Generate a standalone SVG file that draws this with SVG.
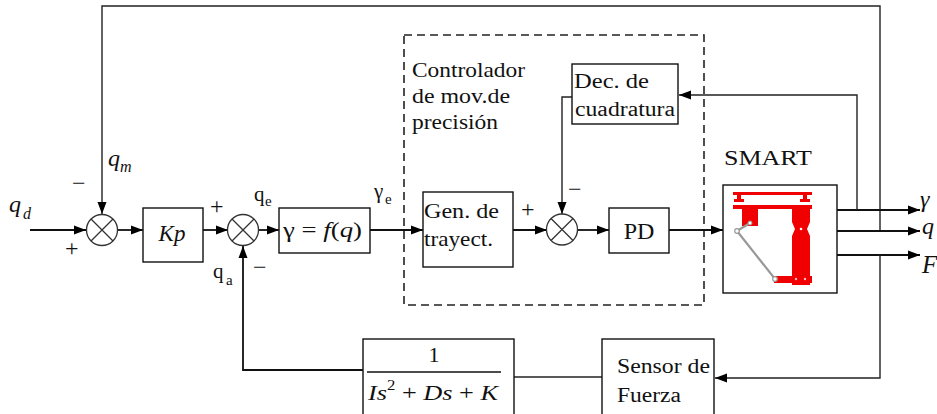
<svg xmlns="http://www.w3.org/2000/svg" width="937" height="414" viewBox="0 0 937 414" font-family="'Liberation Serif', 'Times New Roman', Times, serif">
  <style>
    .box { fill: #fff; stroke: #111; stroke-width: 1.4; }
    .ln { fill: none; stroke: #111; stroke-width: 1.8; }
    .thin { fill: none; stroke: #222; stroke-width: 1.4; }
    .sum { fill: #fff; stroke: #333; stroke-width: 1.3; }
    text { font-family: 'Liberation Serif', 'Times New Roman', Times, serif; fill: #111; }
    .i { font-style: italic; }
    .sg { font-size: 24px; }
    .dash { fill: none; stroke: #222; stroke-width: 1.6; stroke-dasharray: 8 5; }
    .red { fill: #f00000; }
    .lnk { stroke: #999; stroke-width: 2.2; fill: none; stroke-linecap: round; }
  </style>
  <defs>
    <marker id="ah" markerUnits="userSpaceOnUse" markerWidth="13" markerHeight="10" refX="12" refY="5" orient="auto">
      <path d="M0,0.5 L12,5 L0,9.5 z" fill="#000"/>
    </marker>
  </defs>

  <rect width="937" height="414" fill="#fff"/>

  <!-- precision motion controller frame -->
  <g id="controller-frame">
    <rect class="dash" x="404" y="35" width="300" height="270"/>
    <text font-size="21" x="412" y="77" textLength="113" lengthAdjust="spacingAndGlyphs">Controlador</text>
    <text font-size="21" x="412" y="103" textLength="98" lengthAdjust="spacingAndGlyphs">de mov.de</text>
    <text font-size="21" x="412" y="129" textLength="86" lengthAdjust="spacingAndGlyphs">precisión</text>
  </g>

  <!-- connectors -->
  <g id="connectors">
    <path class="ln" d="M30,230 H86" marker-end="url(#ah)"/>
    <path class="thin" d="M880,231 V6 H102 V214" marker-end="url(#ah)"/>
    <path class="ln" d="M118,230 H143" marker-end="url(#ah)"/>
    <path class="ln" d="M203,230 H228" marker-end="url(#ah)"/>
    <path class="ln" d="M258,230 H279" marker-end="url(#ah)"/>
    <path class="ln" d="M370,230 H423" marker-end="url(#ah)"/>
    <path class="ln" d="M513,230 H547" marker-end="url(#ah)"/>
    <path class="ln" d="M577,230 H609" marker-end="url(#ah)"/>
    <path class="ln" d="M669,230 H723" marker-end="url(#ah)"/>
    <path class="thin" d="M572,97 H562 V214" marker-end="url(#ah)"/>
    <path class="ln" d="M837,210 H920" marker-end="url(#ah)"/>
    <path class="thin" d="M857,210 V95 H679" marker-end="url(#ah)"/>
    <path class="ln" d="M837,231 H920" marker-end="url(#ah)"/>
    <path class="ln" d="M837,255 H920" marker-end="url(#ah)"/>
    <path class="thin" d="M880,255 V378 H715" marker-end="url(#ah)"/>
    <path class="thin" d="M602,377 H514"/>
    <path class="ln" d="M363,370 H243 V246" marker-end="url(#ah)"/>
  </g>

  <!-- input / signal labels -->
  <g id="labels">
    <text class="i" font-size="24" x="9" y="212">q</text>
    <text class="i" font-size="16" x="23" y="219">d</text>
    <text class="sg" x="65" y="256">+</text>
    <text class="sg" x="72" y="191">−</text>
    <text class="i" font-size="24" x="108" y="166">q</text>
    <text class="i" font-size="16" x="120" y="172">m</text>
    <text class="sg" x="210" y="214">+</text>
    <text font-size="21" x="254" y="201">q</text>
    <text font-size="15" x="265" y="206">e</text>
    <text font-size="21" x="213" y="278">q</text>
    <text font-size="15" x="226" y="285">a</text>
    <text class="sg" x="253" y="275">−</text>
    <text font-size="21" x="374" y="198">γ</text>
    <text font-size="15" x="385" y="204">e</text>
    <text class="sg" x="521" y="217">+</text>
    <text class="sg" x="568" y="197">−</text>
    <text class="i" font-size="24" x="920" y="207">γ</text>
    <text class="i" font-size="24" x="922" y="234">q</text>
    <text class="i" font-size="25" x="922" y="273">F</text>
  </g>

  <g id="sum1">
    <circle class="sum" cx="102" cy="230" r="15.5"/>
    <path class="sum" d="M91,219 L113,241 M113,219 L91,241"/>
  </g>
  <g id="sum2">
    <circle class="sum" cx="243" cy="230" r="15.5"/>
    <path class="sum" d="M232,219 L254,241 M254,219 L232,241"/>
  </g>
  <g id="sum3">
    <circle class="sum" cx="562" cy="229.5" r="15.5"/>
    <path class="sum" d="M551,218.5 L573,240.5 M573,218.5 L551,240.5"/>
  </g>

  <g id="kp">
    <rect class="box" x="143" y="208" width="60" height="54"/>
    <text class="i" font-size="23" x="172" y="241" text-anchor="middle">Kp</text>
  </g>

  <g id="gamma-fq">
    <rect class="box" x="279" y="208" width="91" height="45"/>
    <text font-size="22" x="283" y="237" textLength="79" lengthAdjust="spacingAndGlyphs">γ = <tspan font-style="italic">f</tspan>(<tspan font-style="italic">q</tspan>)</text>
  </g>

  <g id="gen-trayect">
    <rect class="box" x="423" y="192" width="90" height="75"/>
    <text font-size="21" x="424" y="218" textLength="75" lengthAdjust="spacingAndGlyphs">Gen. de</text>
    <text font-size="21" x="424" y="246" textLength="69" lengthAdjust="spacingAndGlyphs">trayect.</text>
  </g>

  <g id="pd">
    <rect class="box" x="609" y="208" width="60" height="45"/>
    <text font-size="24" x="639" y="239" text-anchor="middle">PD</text>
  </g>

  <g id="dec-cuadratura">
    <rect class="box" x="572" y="64" width="106" height="60"/>
    <text font-size="20" x="574" y="88" textLength="75" lengthAdjust="spacingAndGlyphs">Dec. de</text>
    <text font-size="20" x="575" y="116" textLength="100" lengthAdjust="spacingAndGlyphs">cuadratura</text>
  </g>

  <g id="smart">
    <text font-size="21" x="724" y="165" textLength="88" lengthAdjust="spacingAndGlyphs">SMART</text>
    <rect class="box" x="723" y="185" width="114" height="108"/>
    <!-- manipulator sketch -->
    <rect class="red" x="733" y="192" width="79" height="3"/>
    <rect class="red" x="737" y="195" width="4" height="7"/>
    <rect class="red" x="734" y="199" width="10" height="3"/>
    <rect class="red" x="803" y="195" width="4" height="7"/>
    <rect class="red" x="800" y="199" width="10" height="3"/>
    <rect class="red" x="733" y="205" width="79" height="4"/>
    <rect class="red" x="742" y="205" width="16" height="21"/>
    <path class="red" d="M792,205 H810 V222 L807,229 L810,236 V285 H792 V236 L795,229 L792,222 Z"/>
    <rect class="red" x="774" y="276" width="38" height="7"/>
    <path class="lnk" d="M737,231 L775,279"/>
    <path class="lnk" d="M737,231 L750,223"/>
    <circle cx="737" cy="231" r="2.3" fill="#fff" stroke="#999" stroke-width="1.2"/>
    <circle cx="750" cy="223" r="2" fill="#fff" stroke="#999" stroke-width="1"/>
    <circle cx="775" cy="279" r="2.3" fill="#fff" stroke="#999" stroke-width="1.2"/>
    <circle cx="801" cy="229" r="1.3" fill="#fff"/>
    <circle cx="796" cy="279" r="1.2" fill="#fbb"/>
    <circle cx="805" cy="279" r="1.2" fill="#fbb"/>
  </g>

  <g id="impedance">
    <rect class="box" x="363" y="339" width="151" height="76"/>
    <text font-size="22" x="434" y="362" text-anchor="middle">1</text>
    <line x1="367" y1="372" x2="501" y2="372" stroke="#111" stroke-width="1.3"/>
    <text font-size="22" x="368" y="400" textLength="130" lengthAdjust="spacingAndGlyphs"><tspan font-style="italic">Is</tspan><tspan font-size="14" dy="-10">2</tspan><tspan dy="10"> + </tspan><tspan font-style="italic">Ds</tspan> + <tspan font-style="italic">K</tspan></text>
  </g>

  <g id="sensor-fuerza">
    <rect class="box" x="602" y="339" width="112" height="76"/>
    <text font-size="20" x="617" y="373" textLength="93" lengthAdjust="spacingAndGlyphs">Sensor de</text>
    <text font-size="20" x="617" y="402" textLength="64" lengthAdjust="spacingAndGlyphs">Fuerza</text>
  </g>
</svg>
